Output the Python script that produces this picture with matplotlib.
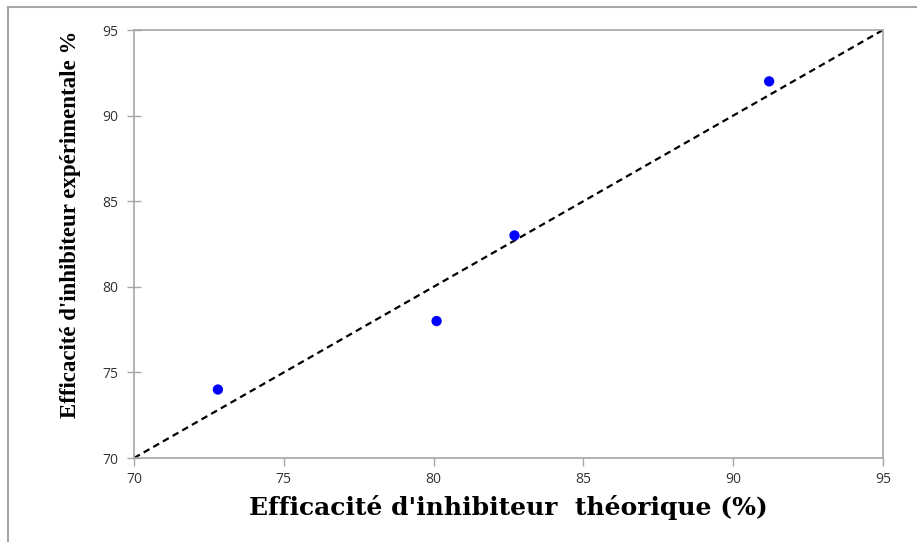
import matplotlib
matplotlib.use("Agg")
import matplotlib.pyplot as plt
from matplotlib.lines import Line2D

theo = [72.8, 80.1, 82.7, 91.2]
expe = [74.0, 78.0, 83.0, 92.0]
ideal = [70, 95]
ticks = [70, 75, 80, 85, 90, 95]

fig = plt.figure(figsize=(9.17, 5.42), dpi=100)
ax = fig.add_axes([134/917, 1-458/542, (883-134)/917, (458-30)/542])

ax.plot(ideal, ideal, ls=(0, (3, 2)), color='black', lw=1.6, zorder=2)
ax.scatter(theo, expe, s=55, color='#0000ff', edgecolors='none', zorder=3)

ax.set_xlim(70, 95)
ax.set_ylim(70, 95)
ax.set_xticks(ticks)
ax.set_yticks(ticks)
for s in ax.spines.values():
    s.set_color('#a6a6a6')
    s.set_linewidth(1.2)
ax.tick_params(axis='x', direction='out', length=6, color='#a6a6a6', width=1,
               labelsize=10, pad=4)
ax.tick_params(axis='y', direction='inout', length=10, color='#a6a6a6', width=1,
               labelsize=10, pad=6)
for lab in ax.get_xticklabels() + ax.get_yticklabels():
    lab.set_fontfamily('Open Sans')
    lab.set_color('#333333')

ax.set_xlabel("Efficacité d'inhibiteur  théorique (%)", family='DejaVu Serif',
              fontweight='bold', fontsize=18, labelpad=6)
ax.set_ylabel("Efficacité d'inhibiteur expérimentale %", family='Liberation Serif',
              fontweight='bold', fontsize=16.5)
ax.yaxis.set_label_coords(-0.071, 0.545)

fig.add_artist(Line2D([8/917, 8/917], [0, 1-7/542], transform=fig.transFigure,
                      color='#a6a6a6', lw=1.5))
fig.add_artist(Line2D([8/917, 1], [1-7/542, 1-7/542], transform=fig.transFigure,
                      color='#a6a6a6', lw=1.5))

fig.savefig('out.png', dpi=100)
